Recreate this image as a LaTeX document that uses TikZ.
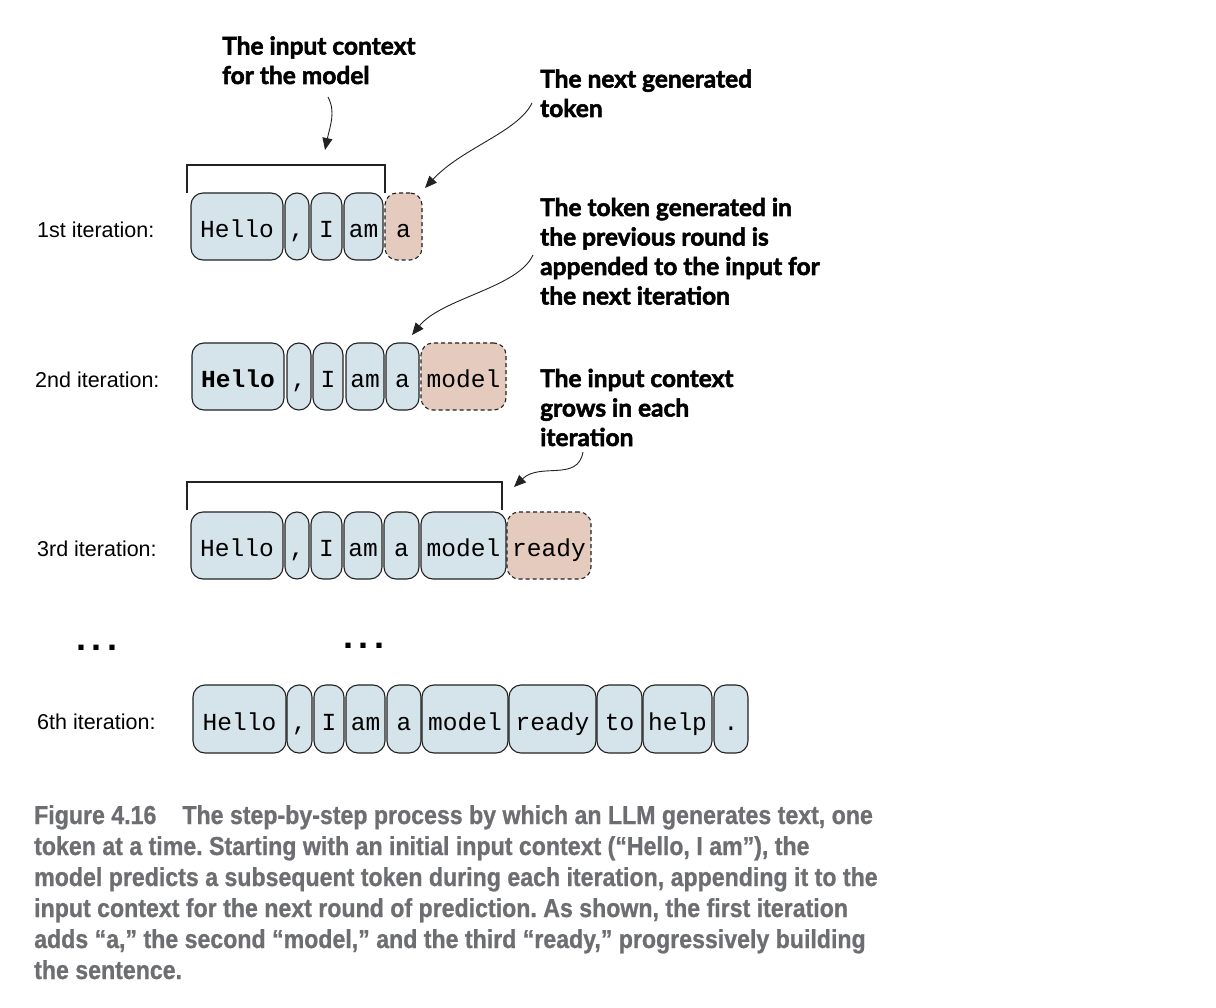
\documentclass[tikz,border=0pt]{standalone}
\usepackage{fontspec}
\setmainfont{Liberation Sans}
\newfontfamily\annfont[BoldFeatures={FakeBold=2.2}]{Lato}
\newfontfamily\tokfont{Liberation Mono}
\newfontfamily\capfont[FakeStretch=0.89,BoldFeatures={FakeBold=0.8}]{Liberation Sans}
\usetikzlibrary{arrows.meta}
\definecolor{tokblue}{HTML}{D5E3EA}
\definecolor{tokpink}{HTML}{E5CBBE}
\definecolor{capgray}{HTML}{6D6E71}
\definecolor{edge}{HTML}{222222}
\newcommand{\tk}[7]{\node[#7, minimum width={#3-#2}, minimum height={#5-#4}] (#1) at ({(#2+#3)/2},{(#4+#5)/2}) {#6};}
\frenchspacing
\begin{document}
\begin{tikzpicture}[x=1pt,y=-1pt,
  tok/.style={draw=edge, line width=1.1pt, rounded corners=12pt, fill=tokblue, inner sep=0pt,
    text height=22pt, text depth=0pt, font=\tokfont\fontsize{24.5}{29}\selectfont},
  newtok/.style={tok, fill=tokpink, dash pattern=on 4pt off 3pt},
  lab/.style={inner sep=0pt, font=\fontsize{21.5}{26}\selectfont},
  ann/.style={inner sep=0pt, align=left, font=\annfont\bfseries\fontsize{24.5}{29.5}\selectfont},
  captext/.style={inner sep=0pt, text=capgray, font=\capfont\bfseries\fontsize{26}{31}\selectfont},
  bracket/.style={draw=edge, line width=1.2pt},
  arr/.style={draw=edge, line width=0.9pt, -{Triangle[length=12pt,width=10pt]}},
  ellip/.style={inner sep=0pt, font=\bfseries\fontsize{36}{36}\selectfont}
]
\useasboundingbox (0,0) rectangle (1216,1008);
\fill[white] (0,0) rectangle (1216,1008);

% row labels
\node[lab, anchor=base west] (l1) at (37,238) {1st iteration:};
\node[lab, anchor=base west] (l2) at (35,388) {2nd iteration:};
\node[lab, anchor=base west] (l3) at (37,556) {3rd iteration:};
\node[lab, anchor=base west] (l6) at (37,729) {6th iteration:};

% row 1
\tk{ra1}{191}{283}{193}{260}{Hello}{tok}
\tk{ra2}{285}{309}{193}{260}{,}{tok}
\tk{ra3}{311}{342}{193}{260}{I}{tok}
\tk{ra4}{344}{383}{193}{260}{am}{tok}
\tk{ra5}{385}{422}{193}{260}{a}{newtok}

% row 2
\tk{rb1}{192}{284}{343}{410}{\bfseries Hello}{tok}
\tk{rb2}{287}{311}{343}{410}{,}{tok}
\tk{rb3}{313}{343}{343}{410}{I}{tok}
\tk{rb4}{346}{384}{343}{410}{am}{tok}
\tk{rb5}{386}{419}{343}{410}{a}{tok}
\tk{rb6}{421}{506}{343}{410}{model}{newtok}

% row 3
\tk{rc1}{191}{283}{512}{579}{Hello}{tok}
\tk{rc2}{285}{309}{512}{579}{,}{tok}
\tk{rc3}{311}{342}{512}{579}{I}{tok}
\tk{rc4}{344}{382}{512}{579}{am}{tok}
\tk{rc5}{384}{419}{512}{579}{a}{tok}
\tk{rc6}{421}{506}{512}{579}{model}{tok}
\tk{rc7}{507}{591}{512}{579}{ready}{newtok}

% row 6
\tk{rd1}{193}{286}{685}{753}{Hello}{tok}
\tk{rd2}{287}{312}{685}{753}{,}{tok}
\tk{rd3}{314}{344}{685}{753}{I}{tok}
\tk{rd4}{346}{385}{685}{753}{am}{tok}
\tk{rd5}{387}{421}{685}{753}{a}{tok}
\tk{rd6}{422}{508}{685}{753}{model}{tok}
\tk{rd7}{509}{596}{685}{753}{ready}{tok}
\tk{rd8}{597}{642}{685}{753}{to}{tok}
\tk{rd9}{643}{712}{685}{753}{help}{tok}
\tk{rd10}{714}{748}{685}{753}{.}{tok}

% brackets
\draw[bracket] (187,193) |- (385,165) -- (385,193);
\draw[bracket] (187,510) |- (502,482) -- (502,510);

% ellipses
\node[ellip, anchor=base] (e1) at (97,650) {.\kern5.5pt.\kern5.5pt.};
\node[ellip, anchor=base] (e2) at (364,648) {.\kern5.5pt.\kern5.5pt.};

% annotations (anchor = baseline of last line)
\node[ann, anchor=base west] (n1) at (222,84) {The input context\\for the model};
\node[ann, anchor=base west] (n2) at (540,117) {The next generated\\token};
\node[ann, anchor=base west] (n3) at (540,304.5) {The token generated in\\the previous round is\\appended to the input for\\the next iteration};
\node[ann, anchor=base west] (n4) at (540,446) {The input context\\grows in each\\iteration};

% arrows
\coordinate (s1) at (328,97);  \coordinate (t1) at (325,150);
\coordinate (s2) at (532,103); \coordinate (t2) at (425,188);
\coordinate (s3) at (533,255); \coordinate (t3) at (412,335);
\coordinate (s4) at (583,452); \coordinate (t4) at (514,487);
\draw[arr] (s1) .. controls (336,112) and (330,126) .. (t1);
\draw[arr] (s2) .. controls (518,132) and (462,148) .. (t2);
\draw[arr] (s3) .. controls (518,288) and (442,298) .. (t3);
\draw[arr] (s4) .. controls (578,482) and (540,462) .. (t4);

% caption
\node[captext, anchor=base west] (c1) at (34,824) {Figure 4.16\hspace{26pt}The step-by-step process by which an LLM generates text, one};
\node[captext, anchor=base west] (c2) at (34,855) {token at a time. Starting with an initial input context (“Hello, I am”), the};
\node[captext, anchor=base west] (c3) at (34,886) {model predicts a subsequent token during each iteration, appending it to the};
\node[captext, anchor=base west] (c4) at (34,917) {input context for the next round of prediction. As shown, the first iteration};
\node[captext, anchor=base west] (c5) at (34,948) {adds “a,” the second “model,” and the third “ready,” progressively building};
\node[captext, anchor=base west] (c6) at (34,979) {the sentence.};
\end{tikzpicture}
\end{document}
